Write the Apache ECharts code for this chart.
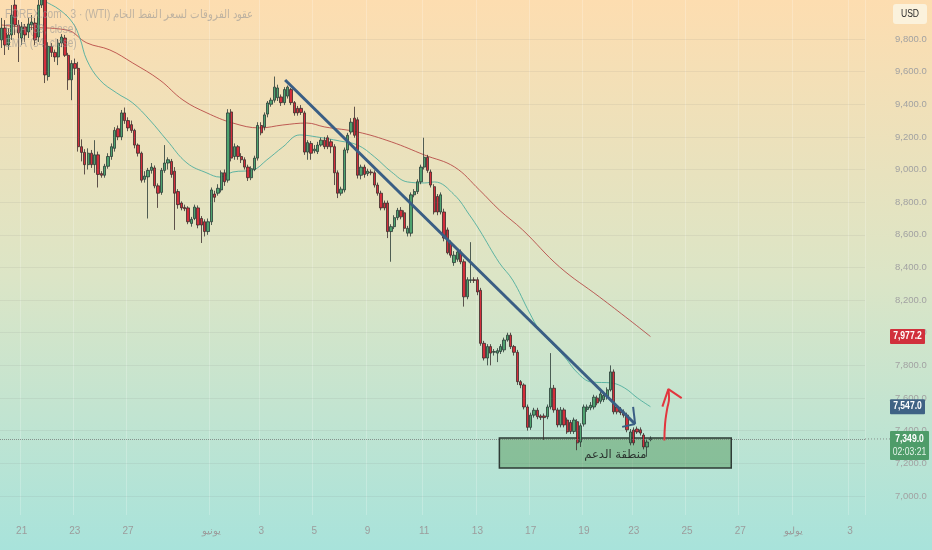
<!DOCTYPE html>
<html><head><meta charset="utf-8">
<script src="https://cdn.jsdelivr.net/npm/echarts@6/dist/echarts.min.js"></script>
<style>html,body{margin:0;padding:0;background:#fff;}#c{width:932px;height:550px;}</style>
</head><body><div id="c"></div>
<script>
// ---- data ----
// candles: [open, close, low, high]
const ohlc = [
[9794,9867,9745,9929],[9867,9763,9702,9916],[9763,9825,9733,9867],[9825,9947,9794,10008],[10008,9886,9825,10060],
[9886,9837,9659,9916],[9806,9874,9763,9904],[9874,9825,9782,9892],[9843,9892,9806,9929],[9886,9904,9855,9947],
[9898,9794,9763,9929],[9812,10008,9782,10050],[10008,10070,9990,10100],[10070,9580,9530,10090],[9570,9755,9545,9780],
[9755,9718,9690,9775],[9718,9690,9660,9735],[9690,9775,9640,9800],[9775,9812,9750,9830],[9806,9700,9690,9825],
[9700,9550,9488,9715],[9550,9650,9425,9670],[9650,9620,9580,9680],[9620,9140,9110,9660],[9140,9105,9050,9185],
[9105,9030,8970,9125],[9030,9100,9000,9130],[9100,9030,9010,9120],[9030,9090,8980,9180],[9090,8970,8890,9110],
[8975,8965,8950,8990],[8965,9020,8950,9035],[9020,9080,9005,9100],[9080,9140,9060,9160],[9130,9240,9110,9260],
[9250,9200,9180,9270],[9200,9347,9180,9365],[9347,9300,9280,9380],[9300,9255,9235,9320],[9275,9240,9225,9300],
[9240,9150,9130,9250],[9150,9100,9080,9160],[9100,8935,8920,9110],[8940,8960,8920,8990],[8955,8995,8700,9010],
[8995,9015,8975,9040],[9010,8900,8885,9025],[8900,8855,8765,8915],[8860,8995,8845,9010],[8995,9040,8980,9150],
[9040,9060,9000,9075],[9050,8970,8950,9065],[8990,8855,8630,9015],[8865,8785,8760,8880],[8795,8765,8750,8805],
[8768,8760,8745,8785],[8765,8680,8665,8775],[8670,8695,8650,8710],[8700,8770,8690,8785],[8765,8660,8640,8780],
[8700,8660,8550,8715],[8680,8620,8590,8695],[8620,8680,8600,8700],[8680,8875,8660,8890],[8850,8830,8800,8870],
[8855,8885,8840,8910],[8875,8980,8860,8995],[8980,8925,8900,9000],[8935,9347,8920,9370],[9353,9070,9050,9370],
[9080,9140,9060,9160],[9140,9080,9060,9150],[9080,9060,9040,9100],[9060,9015,9000,9075],[9015,8950,8930,9030],
[8950,9005,8935,9020],[9000,9070,8990,9085],[9070,9270,9055,9290],[9270,9225,9210,9290],[9260,9335,9240,9350],
[9340,9408,9320,9420],[9400,9425,9385,9440],[9425,9505,9410,9570],[9440,9500,9420,9520],[9445,9410,9390,9460],
[9410,9490,9395,9505],[9450,9505,9435,9515],[9490,9410,9395,9500],[9410,9347,9330,9420],[9375,9347,9330,9390],
[9375,9350,9335,9395],[9347,9107,9090,9360],[9107,9165,9060,9180],[9160,9100,9060,9175],[9115,9125,9100,9150],
[9110,9150,9095,9170],[9150,9180,9140,9195],[9180,9140,9125,9200],[9195,9140,9125,9210],[9170,9140,9100,9185],
[9140,8980,8905,9155],[8980,8855,8825,8995],[8855,8880,8840,8895],[8875,9120,8860,9135],[9120,9210,9100,9225],
[9230,9290,9215,9315],[9315,9210,9195,9385],[9305,8965,8945,9320],[8965,9015,8940,9030],[9015,8970,8950,9030],
[8975,8990,8960,9005],[8985,8980,8965,9000],[8980,8905,8890,8995],[8905,8855,8840,8920],[8855,8765,8750,8870],
[8795,8765,8750,8810],[8795,8620,8580,8810],[8620,8650,8435,8665],[8650,8705,8635,8720],[8705,8750,8690,8765],
[8750,8710,8695,8770],[8735,8640,8620,8750],[8610,8640,8590,8655],[8610,8845,8590,8860],[8845,8865,8830,8880],
[8865,8925,8850,8940],[8925,9015,8910,9030],[9015,9075,9000,9195],[9075,8995,8980,9090],[8985,8905,8890,9000],
[8895,8740,8725,8910],[8835,8740,8720,8850],[8740,8845,8725,8860],[8740,8580,8560,8760],[8630,8490,8480,8645],
[8550,8475,8460,8565],[8430,8475,8410,8500],[8450,8495,8435,8510],[8495,8435,8420,8510],[8435,8220,8160,8450],
[8220,8325,8205,8340],[8320,8325,8305,8555],[8325,8320,8305,8340],[8325,8250,8230,8340],[8260,7935,7920,8275],
[7935,7845,7830,7950],[7845,7915,7800,7930],[7915,7875,7800,7930],[7880,7885,7860,7900],[7875,7890,7820,7905],
[7885,7915,7870,7930],[7895,7955,7880,7970],[7955,7985,7945,8000],[7985,7915,7900,8000],[7915,7880,7860,7925],
[7880,7700,7680,7895],[7700,7680,7660,7710],[7680,7545,7530,7690],[7545,7420,7400,7560],[7420,7495,7405,7510],
[7495,7525,7480,7540],[7525,7485,7470,7540],[7490,7480,7465,7500],[7490,7480,7343,7505],[7485,7545,7470,7560],
[7545,7660,7530,7875],[7660,7527,7510,7680],[7527,7435,7420,7540],[7435,7527,7420,7545],[7527,7435,7420,7540],
[7465,7392,7380,7480],[7450,7395,7380,7465],[7395,7465,7380,7480],[7455,7325,7280,7470],[7330,7430,7300,7445],
[7440,7545,7425,7560],[7530,7545,7515,7560],[7540,7555,7525,7575],[7545,7605,7530,7620],[7600,7570,7555,7615],
[7580,7625,7565,7640],[7590,7615,7575,7630],[7605,7650,7590,7665],[7650,7760,7640,7800],[7760,7515,7500,7775],
[7545,7515,7500,7560],[7527,7510,7495,7545],[7515,7495,7480,7530],[7495,7405,7390,7510],[7325,7392,7310,7410],
[7404,7325,7310,7420],[7410,7392,7380,7425],[7405,7385,7370,7420],[7373,7300,7285,7385],[7300,7330,7240,7345],
[7345,7349,7335,7365]
];
// EMA readings: [bar index, price]
const ema34 = [[8.5,10100],[12.4,10039],[17.5,9978],[21.4,9898],[23.5,9806],[25.6,9671],[29.5,9549],[34.6,9469],[39.4,9408],[44.5,9304],[49.6,9181],[55.7,9040],[61.7,8979],[65.6,8954],[69.5,8985],[75.5,8997],[79.7,9059],[84.5,9138],[89.6,9212],[94.7,9200],[101.6,9175],[107,9150],[112.1,9077],[117.2,8985],[122,8924],[127.1,8918],[130.1,8924],[136.1,8844],[140.6,8722],[143.6,8630],[149.6,8428],[153.6,8323],[158.7,8121],[161.7,8017],[169.2,7852],[173.1,7754],[177.3,7698],[183.3,7692],[187.2,7662],[191.1,7600],[195,7547]];
const ema89 = [[0,9886],[5.5,9874],[19.6,9855],[25.6,9776],[32.5,9733],[39.4,9653],[47.5,9549],[54.5,9426],[61.7,9347],[69.5,9285],[77.6,9255],[84.5,9273],[91.7,9285],[97.1,9261],[107,9230],[117.2,9169],[127.1,9089],[136.1,9016],[143.6,8875],[149.6,8752],[156.6,8630],[167.7,8403],[179.7,8219],[188.7,8078],[195,7977]];
const lastClose = 7349.0, lastEma34 = 7547.0, lastEma89 = 7977.2, countdown = '02:03:21';
const priceTicks = [7000,7200,7400,7600,7800,8000,8200,8400,8600,8800,9000,9200,9400,9600,9800];
const tickIdx = [6,22,38,63,78,94,110,127,143,159,175,190,206,222,238,255];
const tickLabels = ['21','23','27','يونيو','3','5','9','11','13','17','19','23','25','27','يوليو','3'];
// drawings: [bar index, price]
const trendLine = [[85.2,9549],[190.4,7441]];
const trendArrowUp = [[190.4,7441],[189.8,7545]];
const trendArrowLeft = [[190.4,7441],[186.5,7423]];
const supportZone = [[149.6,7355],[219.3,7171]];
const supportLabel = 'منطقة الدعم';
const curveArrow = [[199.2,7340],[199.4,7440],[200.0,7530],[200.6,7600],[200.4,7654]];
const curveHead = [[204.4,7599],[200.4,7654],[198.6,7547]];
const legendLines = ['FOREX.com · 3 · (WTI) عقود الفروقات لسعر النفط الخام','EMA (89, close)','EMA (34, close)'];
const slotCount = 260;

// ---- chart ----
const FONT = "'Liberation Sans',Arial,sans-serif";
const chart = echarts.init(document.getElementById('c'), null, {renderer:'canvas'});
const cats = Array.from({length: slotCount}, (_, i) => String(i));
const labelMap = {}; tickIdx.forEach((k, j) => labelMap[k] = tickLabels[j]);
const fmt = v => Number(v).toLocaleString('en-US', {minimumFractionDigits:1, maximumFractionDigits:1});

chart.setOption({
  animation: false,
  backgroundColor: {type:'linear', x:0, y:0, x2:0, y2:1, colorStops:[
    {offset:0, color:'#FDDDB0'}, {offset:0.5, color:'#DCE5C6'}, {offset:1, color:'#A8E3DB'}]},
  textStyle: {fontFamily: FONT},
  grid: {left:0, right:67, top:0, bottom:35, containLabel:false},
  xAxis: [
    {type:'category', data:cats, boundaryGap:true,
     axisLine:{show:false}, axisTick:{show:false},
     axisLabel:{interval:(i)=>labelMap[i]!==undefined, formatter:(v,i)=>labelMap[i]||'', color:'#9c9c9c', fontSize:10, margin:11, fontFamily:FONT},
     splitLine:{show:true, interval:(i)=>labelMap[i]!==undefined, lineStyle:{color:'rgba(255,255,255,0.22)', width:1}}},
    {type:'value', min:-0.5, max:slotCount-0.5, show:false}
  ],
  yAxis: {type:'value', position:'right', min:6883, max:10039, scale:true,
    axisLine:{show:false}, axisTick:{show:false}, splitLine:{show:false},
    axisLabel:{customValues:priceTicks, margin:30, color:'#a2a2a2', fontSize:9.5, fontFamily:FONT, formatter:fmt}},
  series: [
    {type:'line', name:'EMA (89, close)', xAxisIndex:1, data:ema89, smooth:0.4, symbol:'none',
     lineStyle:{color:'#B23A3A', width:1, opacity:0.8}, z:3,
     markLine:{silent:true, symbol:'none', label:{show:false},
       lineStyle:{color:'rgba(120,120,120,0.10)', width:1, type:'solid'},
       data: priceTicks.map(v=>({yAxis:v}))}},
    {type:'line', name:'EMA (34, close)', xAxisIndex:1, data:ema34, smooth:0.4, symbol:'none',
     lineStyle:{color:'#4FAE9E', width:1, opacity:0.9}, z:3,
     markArea:{silent:true, z:1,
       itemStyle:{color:'rgba(46,125,50,0.36)', borderColor:'#2E3B36', borderWidth:1.5},
       label:{show:true, position:'inside', offset:[0,2], formatter:supportLabel, color:'#2a332e', fontSize:11.5, fontFamily:"'DejaVu Sans','Noto Sans',sans-serif"},
       data:[[{coord:supportZone[0]}, {coord:supportZone[1]}]]},
     markLine:{silent:true, symbol:'none', label:{show:false}, z:6,
       data:[
         [{coord:trendLine[0], lineStyle:{color:'#3A5E84', width:3, type:'solid'}}, {coord:trendLine[1]}],
         [{coord:trendArrowUp[0], lineStyle:{color:'#3A5E84', width:2, type:'solid'}}, {coord:trendArrowUp[1]}],
         [{coord:trendArrowLeft[0], lineStyle:{color:'#3A5E84', width:2, type:'solid'}}, {coord:trendArrowLeft[1]}]
       ]}},
    {type:'candlestick', name:'WTI', xAxisIndex:0, data:ohlc, barWidth:2.8, z:4,
     itemStyle:{color:'#4EA36F', color0:'#D42E3B', borderColor:'#2A3A36', borderColor0:'#3A2C2C', borderWidth:0.8},
     markLine:{silent:true, symbol:'none', label:{show:false},
       lineStyle:{color:'rgba(110,110,110,0.7)', width:1, type:'dotted'},
       data:[{yAxis:lastClose}]}},
    {type:'line', name:'arrow', xAxisIndex:1, data:curveArrow, smooth:0.5, symbol:'none', z:7,
     lineStyle:{color:'#E2363E', width:2}},
    {type:'line', name:'arrowHead', xAxisIndex:1, data:curveHead, symbol:'none', z:7,
     lineStyle:{color:'#E2363E', width:2}}
  ]
});

const py = v => chart.convertToPixel({yAxisIndex:0}, v);
const SX = 0.86;
function txt(x, y, s, fill, font){
  return {type:'text', x:x, y:y, scaleX:SX, style:{text:s, fill:fill, font:font, align:'center', verticalAlign:'middle'}, z:51};
}
const g = [];
const ry = py(lastEma89);
g.push({type:'rect', shape:{x:890, y:ry-7.5, width:35, height:15, r:1}, style:{fill:'#D1303C'}, z:50});
g.push(txt(907.5, ry, fmt(lastEma89), '#fff', 'bold 10px '+FONT));
const by = py(lastEma34);
g.push({type:'rect', shape:{x:890, y:by-7.5, width:35, height:15, r:1}, style:{fill:'#3F6284'}, z:50});
g.push(txt(907.5, by, fmt(lastEma34), '#fff', 'bold 10px '+FONT));
const cy = py(lastClose);
g.push({type:'rect', shape:{x:890, y:cy-8, width:39, height:29, r:1}, style:{fill:'#4E9C69'}, z:50});
g.push(txt(909.5, cy, fmt(lastClose), '#fff', 'bold 10px '+FONT));
g.push(txt(909.5, cy+13, countdown, '#e3f3e8', '10px '+FONT));
g.push({type:'line', shape:{x1:865, y1:cy, x2:890, y2:cy}, style:{stroke:'rgba(110,110,110,0.7)', lineDash:[1,2], lineWidth:1}, z:49});
g.push({type:'rect', shape:{x:893, y:4, width:34, height:20, r:3}, style:{fill:'#FBF2DC'}, z:50});
g.push(txt(910, 14, 'USD', '#2a2a2a', '10px '+FONT));
legendLines.forEach((t, k) => {
  g.push({type:'text', x:5, y:15 + k*14.5, scaleX:0.84, style:{text:t, fill:'rgba(150,150,150,0.6)', font:'12px '+FONT, align:'left', verticalAlign:'middle'}, z:40});
});
chart.setOption({graphic: g});
</script>
</body></html>
